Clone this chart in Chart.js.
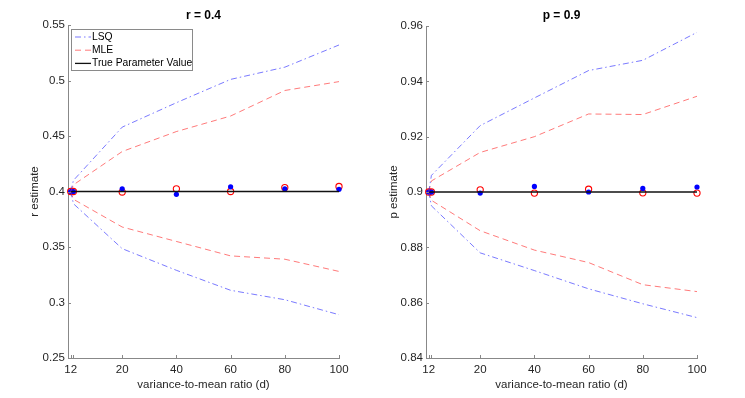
<!DOCTYPE html>
<html lang="en">
<head>
    <meta charset="UTF-8">
    <title>r and p estimates</title>
    <script src="https://cdn.jsdelivr.net/npm/chart.js"></script>
    <style>
        body { margin: 0; background: #fff; }
        #wrap { position: relative; width: 745px; height: 398px; }
        canvas { position: absolute; top: 0; }
    </style>
</head>
<body>
<div id="wrap">
    <canvas id="rChart" width="372" height="398" style="left:0"></canvas>
    <canvas id="pChart" width="373" height="398" style="left:372px"></canvas>
</div>
<script>
// variance-to-mean ratio values
const dValues = [1, 2, 20, 40, 60, 80, 100];
const xTicks = [1, 2, 20, 40, 60, 80, 100];
const xTickLabels = ['12', '', '20', '40', '60', '80', '100'];

// r panel
const rTrue = [0.4, 0.4, 0.4, 0.4, 0.4, 0.4, 0.4];
const rLsqUpper = [0.4, 0.41, 0.458, 0.48, 0.501, 0.512, 0.532];
const rLsqLower = [0.4, 0.389, 0.3485, 0.329, 0.311, 0.3025, 0.289];
const rMleUpper = [0.4, 0.406, 0.436, 0.454, 0.468, 0.491, 0.499];
const rMleLower = [0.4, 0.393, 0.368, 0.355, 0.342, 0.339, 0.328];
const rLsqMean = [0.4, 0.4, 0.4025, 0.3975, 0.4042, 0.4025, 0.402];
const rMleMean = [0.4, 0.4, 0.3995, 0.4024, 0.4, 0.4035, 0.4045];
const rTicks = [0.25, 0.3, 0.35, 0.4, 0.45, 0.5, 0.55];

// p panel
const pTrue = [0.9, 0.9, 0.9, 0.9, 0.9, 0.9, 0.9];
const pLsqUpper = [0.9, 0.906, 0.924, 0.934, 0.9439, 0.9476, 0.9577];
const pLsqLower = [0.9, 0.895, 0.878, 0.8716, 0.865, 0.8596, 0.8546];
const pMleUpper = [0.9, 0.904, 0.9143, 0.92, 0.9282, 0.928, 0.9346];
const pMleLower = [0.9, 0.897, 0.886, 0.879, 0.8745, 0.8665, 0.864];
const pLsqMean = [0.9, 0.9, 0.8996, 0.902, 0.9, 0.9013, 0.9018];
const pMleMean = [0.9, 0.9, 0.9008, 0.8996, 0.901, 0.8997, 0.8996];
const pTicks = [0.84, 0.86, 0.88, 0.9, 0.92, 0.94, 0.96];

Chart.defaults.font.family = "'Liberation Sans', Arial, sans-serif";
Chart.defaults.color = '#262626';

const LSQ_DASH = [6, 3, 1.5, 3];
const MLE_DASH = [6, 4];

function pts(ys) {
    return dValues.map((x, i) => ({ x: x, y: ys[i] }));
}

function lineSet(label, ys, color, dash, width, inLegend) {
    return {
        label: label, data: pts(ys), showLine: true, borderColor: color,
        borderDash: dash, borderWidth: width, pointRadius: 0, inLegend: inLegend
    };
}

// title over the middle of the plot area
const titlePlugin = {
    id: 'panelTitle',
    afterDraw(chart, args, opts) {
        const ctx = chart.ctx, a = chart.chartArea;
        ctx.save();
        ctx.font = 'bold 12px ' + Chart.defaults.font.family;
        ctx.fillStyle = '#000';
        ctx.textAlign = 'center';
        ctx.textBaseline = 'middle';
        ctx.fillText(opts.text, (a.left + a.right) / 2, 16);
        ctx.restore();
    }
};

// matlab style ticks pointing inwards
const innerTicks = {
    id: 'innerTicks',
    afterDraw(chart) {
        const ctx = chart.ctx, a = chart.chartArea;
        const xs = chart.scales.x, ys = chart.scales.y;
        ctx.save();
        ctx.strokeStyle = '#888';
        ctx.lineWidth = 1;
        ctx.beginPath();
        xs.ticks.forEach(t => {
            const px = Math.round(xs.getPixelForValue(t.value)) + 0.5;
            ctx.moveTo(px, a.bottom);
            ctx.lineTo(px, a.bottom - 3);
        });
        ys.ticks.forEach(t => {
            const py = Math.round(ys.getPixelForValue(t.value)) + 0.5;
            ctx.moveTo(a.left, py);
            ctx.lineTo(a.left + 3, py);
        });
        ctx.stroke();
        ctx.restore();
    }
};

// boxed legend in the upper left corner
const boxLegend = {
    id: 'boxLegend',
    afterDraw(chart, args, opts) {
        if (!opts.show) return;
        const ctx = chart.ctx;
        const items = chart.data.datasets.filter(d => d.inLegend);
        ctx.save();
        ctx.fillStyle = '#fff';
        ctx.fillRect(71.5, 29.5, 121, 41);
        ctx.strokeStyle = '#8a8a8a';
        ctx.lineWidth = 1;
        ctx.strokeRect(71.5, 29.5, 121, 41);
        ctx.font = '10.3px ' + Chart.defaults.font.family;
        ctx.textBaseline = 'middle';
        items.forEach((d, i) => {
            const y = 37 + i * 13.2;
            ctx.beginPath();
            ctx.setLineDash(d.borderDash || []);
            ctx.strokeStyle = d.borderColor;
            ctx.lineWidth = d.borderWidth;
            ctx.moveTo(75, y);
            ctx.lineTo(91, y);
            ctx.stroke();
            ctx.setLineDash([]);
            ctx.fillStyle = '#000';
            ctx.fillText(d.label, 92, y);
        });
        ctx.restore();
    }
};

function makeChart(id, o) {
    new Chart(document.getElementById(id), {
        type: 'scatter',
        data: {
            datasets: [
                lineSet('LSQ', o.lsqUp, '#2020ff', LSQ_DASH, 0.6, true),
                lineSet('MLE', o.mleUp, '#ff2020', MLE_DASH, 0.6, true),
                lineSet('True Parameter Value', o.truth, '#111', [], 1.3, true),
                lineSet('LSQ lower', o.lsqLo, '#2020ff', LSQ_DASH, 0.6, false),
                lineSet('MLE lower', o.mleLo, '#ff2020', MLE_DASH, 0.6, false),
                { label: 'LSQ mean', data: pts(o.lsqMean), pointRadius: 2.6, clip: false,
                  backgroundColor: '#0000ff', borderColor: '#0000ff', borderWidth: 0 },
                { label: 'MLE mean', data: pts(o.mleMean), pointRadius: 3.1, clip: false,
                  backgroundColor: 'rgba(0,0,0,0)', borderColor: '#ff0000', borderWidth: 1.1 }
            ]
        },
        options: {
            responsive: false,
            animation: false,
            events: [],
            layout: { padding: o.pad },
            plugins: {
                legend: { display: false },
                tooltip: { enabled: false },
                panelTitle: { text: o.title },
                boxLegend: { show: o.legend }
            },
            scales: {
                x: {
                    type: 'linear', min: 0, max: 100,
                    grid: { display: false, drawTicks: false },
                    border: { color: '#888', width: 1 },
                    afterBuildTicks: s => { s.ticks = xTicks.map(v => ({ value: v })); },
                    afterFit: s => { s.height = 40; },
                    ticks: {
                        autoSkip: false, maxRotation: 0, padding: 5,
                        font: { size: 11.5 },
                        callback: (v, i) => xTickLabels[i]
                    },
                    title: {
                        display: true, text: 'variance-to-mean ratio (d)',
                        font: { size: 11.5 }, padding: { top: 0, bottom: 6 }
                    }
                },
                y: {
                    min: o.ticks[0], max: o.ticks[o.ticks.length - 1],
                    grid: { display: false, drawTicks: false },
                    border: { color: '#888', width: 1 },
                    afterBuildTicks: s => { s.ticks = o.ticks.map(v => ({ value: v })); },
                    afterFit: s => { s.width = o.yWidth; },
                    ticks: {
                        autoSkip: false, padding: 3,
                        font: { size: 11.5 },
                        callback: v => String(Number(v.toFixed(3)))
                    },
                    title: {
                        display: true, text: o.yTitle,
                        font: { size: 11.5 }, padding: { top: o.yTitlePad, bottom: 0 }
                    }
                }
            }
        },
        plugins: [innerTicks, boxLegend, titlePlugin]
    });
}

makeChart('rChart', {
    title: 'r = 0.4', yTitle: 'r estimate', legend: true,
    truth: rTrue, lsqUp: rLsqUpper, lsqLo: rLsqLower, mleUp: rMleUpper, mleLo: rMleLower,
    lsqMean: rLsqMean, mleMean: rMleMean, ticks: rTicks,
    pad: { left: 0, right: 33, top: 25, bottom: 0 }, yWidth: 68, yTitlePad: 28
});

makeChart('pChart', {
    title: 'p = 0.9', yTitle: 'p estimate', legend: false,
    truth: pTrue, lsqUp: pLsqUpper, lsqLo: pLsqLower, mleUp: pMleUpper, mleLo: pMleLower,
    lsqMean: pLsqMean, mleMean: pMleMean, ticks: pTicks,
    pad: { left: 0, right: 48, top: 26, bottom: 0 }, yWidth: 54, yTitlePad: 15
});
</script>
</body>
</html>
